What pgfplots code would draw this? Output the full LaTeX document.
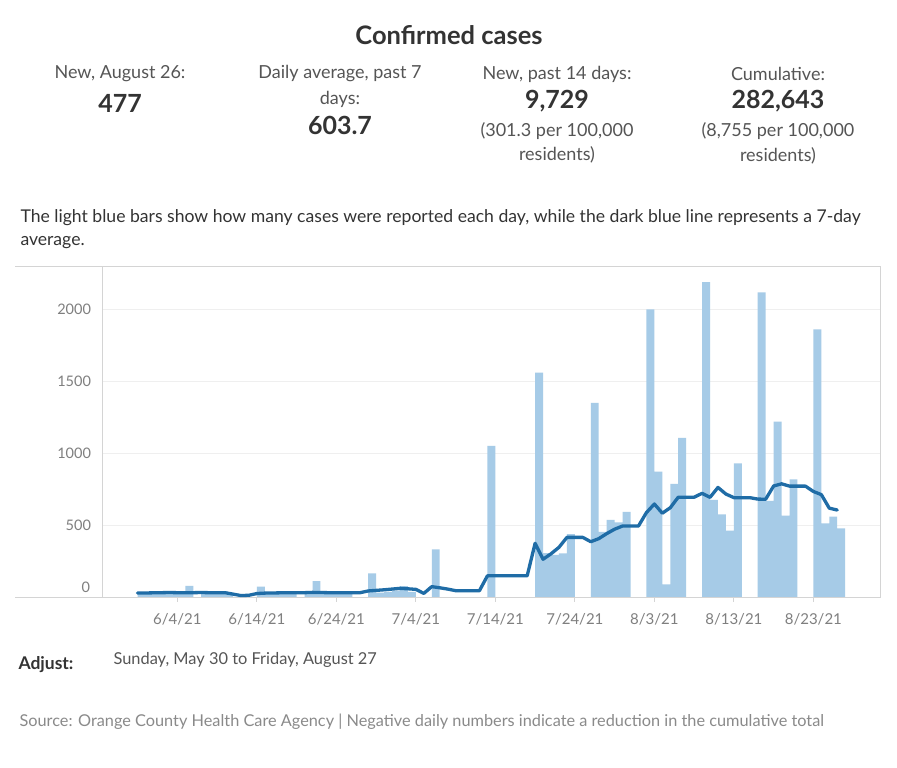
\documentclass[border=0pt]{standalone}
\usepackage{pgfplots}
\pgfplotsset{compat=1.18}
\usepackage{pgfplotstable}
\usepackage{fontspec}
\setmainfont{Lato}
\definecolor{barblue}{HTML}{A6CBE7}
\definecolor{lineblue}{HTML}{1F6CA6}
\definecolor{framegray}{HTML}{D4D4D4}
\definecolor{gridgray}{HTML}{EFEFEF}
\definecolor{labgray}{HTML}{7F7F7F}
\definecolor{txtdark}{HTML}{333333}
\definecolor{txtmid}{HTML}{555555}
\definecolor{srcgray}{HTML}{8A8A8A}

% daily reported cases (d = days since May 30, 2021)
\pgfplotstableread{
d v
0 25
1 30
2 28
3 30
4 28
5 25
6 78
8 25
9 30
10 28
11 30
15 72
16 28
17 30
18 28
19 25
21 25
22 111
23 28
24 30
25 25
26 28
29 164
30 30
31 35
32 45
33 76
34 35
37 331
44 1049
50 1558
51 305
52 292
53 303
54 437
57 1349
58 453
59 535
60 519
61 592
64 1998
65 870
66 88
67 785
68 1106
71 2187
72 674
73 574
74 461
75 928
78 2116
79 667
80 1218
81 565
82 817
85 1859
86 512
87 558
88 477
}\daily

% 7-day average
\pgfplotstableread{
d v
0 28
1 28
2 29
3 30
4 31
5 30
6 29
7 30
8 31
9 30
10 30
11 30
12 20
13 10
14 12
15 24
16 27
17 28
18 29
19 29
20 29
21 30
22 32
23 31
24 30
25 29
26 29
27 29
28 30
29 42
30 46
31 50
32 55
33 60
34 57
35 53
36 25
37 72
38 64
39 55
40 44
41 44
42 44
43 44
44 147
45 147
46 147
47 147
48 147
49 147
50 373
51 262
52 300
53 345
54 414
55 414
56 414
57 384
58 405
59 440
60 471
61 493
62 493
63 493
64 586
65 646
66 582
67 620
68 693
69 693
70 693
71 720
72 692
73 761
74 715
75 690
76 690
77 690
78 680
79 679
80 771
81 786
82 770
83 770
84 770
85 733
86 711
87 617
88 604
}\avg

\begin{document}
\begin{tikzpicture}[x=1pt,y=1pt]
\useasboundingbox (0,0) rectangle (897,768);
\fill[white] (0,0) rectangle (897,768);

% header
\node[txtdark, font=\fontsize{25.5}{30}\selectfont\bfseries] at (449,733) {Confirmed cases};
\begin{scope}[every node/.style={font=\fontsize{18}{21}\selectfont, text=txtmid}]
\node at (120,694) {New, August 26:};
\node at (340,694) {Daily average, past 7};
\node at (340,669) {days:};
\node at (557,694) {New, past 14 days:};
\node at (557,637) {(301.3 per 100,000};
\node at (557,613) {residents)};
\node at (778,694) {Cumulative:};
\node at (778,637) {(8,755 per 100,000};
\node at (778,612) {residents)};
\end{scope}
\begin{scope}[every node/.style={font=\fontsize{25}{30}\selectfont\bfseries, text=txtdark}]
\node at (120,665) {477};
\node at (340,643) {603.7};
\node at (557,667) {9,729};
\node at (778,667) {282,643};
\end{scope}
\node[anchor=west, txtdark, font=\fontsize{17.6}{21}\selectfont] at (17,550) {The light blue bars show how many cases were reported each day, while the dark blue line represents a 7-day};
\node[anchor=west, txtdark, font=\fontsize{17.6}{21}\selectfont] at (17,525) {average.};

% frame extensions left of the axis
\draw[framegray, line width=0.8pt] (15,502) -- (102.5,502);
\draw[framegray, line width=0.8pt] (15,171) -- (102.5,171);

\begin{axis}[
  at={(102.5pt,171pt)}, anchor=south west,
  scale only axis, width=777.5pt, height=331pt,
  xmin=-4.415, xmax=93.38, ymin=0, ymax=2299,
  axis line style={draw=framegray, line width=0.8pt},
  tick pos=left,
  xtick={5,15,25,35,45,55,65,75,85},
  xticklabels={6/4/21,6/14/21,6/24/21,7/4/21,7/14/21,7/24/21,8/3/21,8/13/21,8/23/21},
  ytick={0,500,1000,1500,2000},
  yticklabels={{},500,1000,1500,2000},
  tick align=outside, major tick length=5pt,
  xtick style={draw=framegray, line width=0.8pt},
  ytick style={draw=none},
  ymajorgrids, grid style={draw=gridgray, line width=0.9pt},
  ticklabel style={font=\fontsize{14.5}{17}\selectfont, text=labgray},
  xticklabel style={yshift=-8pt, font=\fontsize{15}{17}\selectfont},
  yticklabel style={xshift=-3pt},
  clip=false,
]
\addplot[ybar, bar width=1, fill=barblue, draw=none] table[x expr=\thisrow{d}+0.5, y=v] {\daily};
\addplot[lineblue, line width=3.3pt, line join=round, line cap=round, mark=none] table[x=d, y=v] {\avg};
\node[anchor=east, font=\fontsize{14.5}{17}\selectfont, text=labgray] at (rel axis cs:0,0) [xshift=-9pt, yshift=10pt] {0};
\end{axis}

% footer
\node[anchor=west, txtdark, font=\fontsize{17.5}{21}\selectfont\bfseries] at (15,103) {Adjust:};
\node[anchor=west, txtmid, font=\fontsize{16.4}{19}\selectfont] at (110,108) {Sunday, May 30 to Friday, August 27};
\node[anchor=west, srcgray, font=\fontsize{16.3}{19}\selectfont] at (16,46) {Source: Orange County Health Care Agency | Negative daily numbers indicate a reduction in the cumulative total};
\end{tikzpicture}
\end{document}
